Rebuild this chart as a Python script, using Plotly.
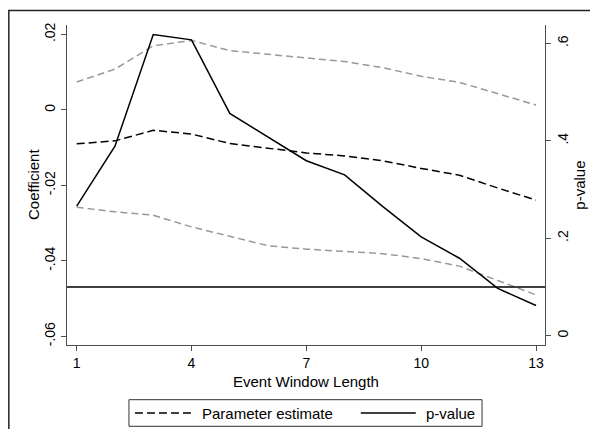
import plotly.graph_objects as go

# ---- data ----
window_length = [1, 2, 3, 4, 5, 6, 7, 8, 9, 10, 11, 12, 13]
estimate = [-0.0090, -0.0082, -0.0054, -0.0064, -0.0089, -0.0102, -0.0114, -0.0122, -0.0135,
            -0.0155, -0.0173, -0.0207, -0.0239]
ci_upper = [0.0074, 0.0108, 0.0170, 0.0184, 0.0157, 0.0148, 0.0139, 0.0128, 0.0112,
            0.0089, 0.0073, 0.0043, 0.0013]
ci_lower = [-0.0258, -0.0270, -0.0279, -0.0310, -0.0335, -0.0360, -0.0369, -0.0374, -0.0381,
            -0.0394, -0.0414, -0.0452, -0.0490]
p_value = [0.266, 0.389, 0.618, 0.607, 0.456, 0.408, 0.359, 0.330, 0.265,
           0.203, 0.159, 0.097, 0.062]
p_threshold = 0.1

x_ticks = [1, 4, 7, 10, 13]
y_ticks = [0.02, 0, -0.02, -0.04, -0.06]
y_ticktext = [".02", "0", "-.02", "-.04", "-.06"]
y2_ticks = [0, 0.2, 0.4, 0.6]
y2_ticktext = ["0", ".2", ".4", ".6"]

FONT = "Liberation Sans, Arial, sans-serif"
AXC = "#4d4d4d"
GRAY = "#999999"

# page offset (body margin) and figure geometry
OFF = 8
W, H = 598 - 2 * OFF, 437 - 2 * OFF
# plot-area edges in page pixels
L, R, T, B = 67 - OFF, 545.3 - OFF, 25 - OFF, 345 - OFF
PW, PH = R - L, B - T


def px(x):
    return (x - OFF - L) / PW


def py(y):
    return (B - (y - OFF)) / PH


fig = go.Figure()
fig.add_trace(go.Scatter(x=window_length, y=ci_upper, mode="lines", showlegend=False,
                         line=dict(color=GRAY, width=1.5, dash="7px,4px")))
fig.add_trace(go.Scatter(x=window_length, y=ci_lower, mode="lines", showlegend=False,
                         line=dict(color=GRAY, width=1.5, dash="7px,4px")))
fig.add_trace(go.Scatter(x=window_length, y=estimate, mode="lines", name="Parameter estimate",
                         showlegend=False, line=dict(color="black", width=1.5, dash="8px,4px")))
fig.add_trace(go.Scatter(x=window_length, y=p_value, mode="lines", name="p-value", yaxis="y2",
                         showlegend=False, line=dict(color="black", width=1.5)))

shapes = [
    # p = 0.1 reference line
    dict(type="line", xref="paper", x0=0, x1=1, yref="y2", y0=p_threshold, y1=p_threshold,
         line=dict(color="black", width=1.5)),
    # outer frame
    dict(type="rect", xref="paper", yref="paper", x0=px(8.8), x1=px(700), y0=py(600), y1=py(10.5),
         line=dict(color="#222222", width=1.5), layer="below"),
    # legend box
    dict(type="rect", xref="paper", yref="paper", x0=px(129), x1=px(482.3), y0=py(426.3), y1=py(399.7),
         line=dict(color="#333333", width=1)),
    dict(type="line", xref="paper", yref="paper", x0=px(135), x1=px(192), y0=py(413), y1=py(413),
         line=dict(color="black", width=1.5, dash="8px,4px")),
    dict(type="line", xref="paper", yref="paper", x0=px(361), x1=px(416), y0=py(413), y1=py(413),
         line=dict(color="black", width=1.5)),
]

annotations = [
    dict(text="Coefficient", xref="paper", yref="paper", x=px(33), y=py(185), showarrow=False,
         textangle=-90, font=dict(size=15, color="black", family=FONT), xanchor="center", yanchor="middle"),
    dict(text="p-value", xref="paper", yref="paper", x=px(579), y=py(185), showarrow=False,
         textangle=-90, font=dict(size=15, color="black", family=FONT), xanchor="center", yanchor="middle"),
    dict(text="Event Window Length", xref="paper", yref="paper", x=px(306), y=py(381), showarrow=False,
         font=dict(size=15, color="black", family=FONT), xanchor="center", yanchor="middle"),
    dict(text="Parameter estimate", xref="paper", yref="paper", x=px(200), y=py(413), showarrow=False,
         font=dict(size=15, color="black", family=FONT), xanchor="left", yanchor="middle"),
    dict(text="p-value", xref="paper", yref="paper", x=px(424.5), y=py(413), showarrow=False,
         font=dict(size=15, color="black", family=FONT), xanchor="left", yanchor="middle"),
]

fig.update_layout(
    width=W, height=H,
    margin=dict(l=L, r=W - R, t=T, b=H - B, pad=0),
    paper_bgcolor="white", plot_bgcolor="white",
    font=dict(family=FONT, size=14, color="black"),
    showlegend=False,
    shapes=shapes,
    annotations=annotations,
    xaxis=dict(range=[0.747, 13.235], tickvals=x_ticks, ticks="outside", ticklen=5, tickcolor=AXC,
               showline=True, linecolor=AXC, linewidth=1.2, showgrid=False, zeroline=False,
               tickfont=dict(size=14)),
    yaxis=dict(range=[-0.0623, 0.0225], tickvals=y_ticks, ticktext=y_ticktext, tickangle=-90,
               ticks="outside", ticklen=5, tickcolor=AXC, showline=True, linecolor=AXC, linewidth=1.2,
               showgrid=False, zeroline=False, tickfont=dict(size=14)),
    yaxis2=dict(range=[-0.019, 0.6375], tickvals=y2_ticks, ticktext=y2_ticktext, tickangle=-90,
                overlaying="y", side="right", ticks="outside", ticklen=5, tickcolor=AXC,
                showline=True, linecolor=AXC, linewidth=1.2, showgrid=False, zeroline=False,
                tickfont=dict(size=14)),
)

fig.write_html("out.html")
